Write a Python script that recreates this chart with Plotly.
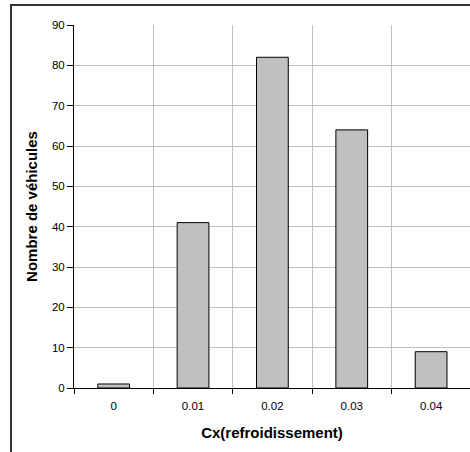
import plotly.graph_objects as go

categories = ["0", "0.01", "0.02", "0.03", "0.04"]
counts = [1, 41, 82, 64, 9]
y_ticks = [0, 10, 20, 30, 40, 50, 60, 70, 80, 90]

FONT = "Liberation Sans, Arial, sans-serif"

fig = go.Figure(
    go.Bar(
        x=categories,
        y=counts,
        width=0.4,
        marker=dict(color="#c0c0c0", line=dict(color="#000000", width=1)),
    )
)

fig.update_layout(
    width=470,
    height=452,
    margin=dict(l=74, r=0, t=25, b=64),
    paper_bgcolor="white",
    plot_bgcolor="white",
    showlegend=False,
    font=dict(family=FONT, size=11.5, color="#000000"),
    xaxis=dict(
        type="category",
        tickson="boundaries",
        showgrid=True,
        gridcolor="#c0c0c0",
        gridwidth=1,
        showline=True,
        linecolor="#000000",
        linewidth=1,
        ticks="outside",
        ticklen=5,
        tickcolor="#000000",
        ticklabelstandoff=7,
        title=dict(text="<b>Cx(refroidissement)</b>", font=dict(size=15, family=FONT), standoff=16),
        range=[-0.5, 4.49],
    ),
    yaxis=dict(
        range=[0, 90],
        tickvals=y_ticks,
        showgrid=True,
        gridcolor="#c0c0c0",
        gridwidth=1,
        showline=True,
        linecolor="#000000",
        linewidth=1,
        ticks="outside",
        ticklen=6,
        tickcolor="#000000",
        zeroline=False,
        title=dict(text="<b>Nombre de véhicules</b>", font=dict(size=15, family=FONT), standoff=10),
    ),
    shapes=[
        dict(
            type="rect",
            xref="paper",
            yref="paper",
            x0=(11 - 74) / 396,
            x1=1.2,
            y0=-0.5,
            y1=1 + 20 / 363,
            line=dict(color="#333333", width=2),
            fillcolor="rgba(0,0,0,0)",
            layer="above",
        )
    ],
)

fig.write_html(
    "out.html",
    config={"displayModeBar": False},
    post_script="document.body.style.margin='0';document.body.style.overflow='hidden';",
)
